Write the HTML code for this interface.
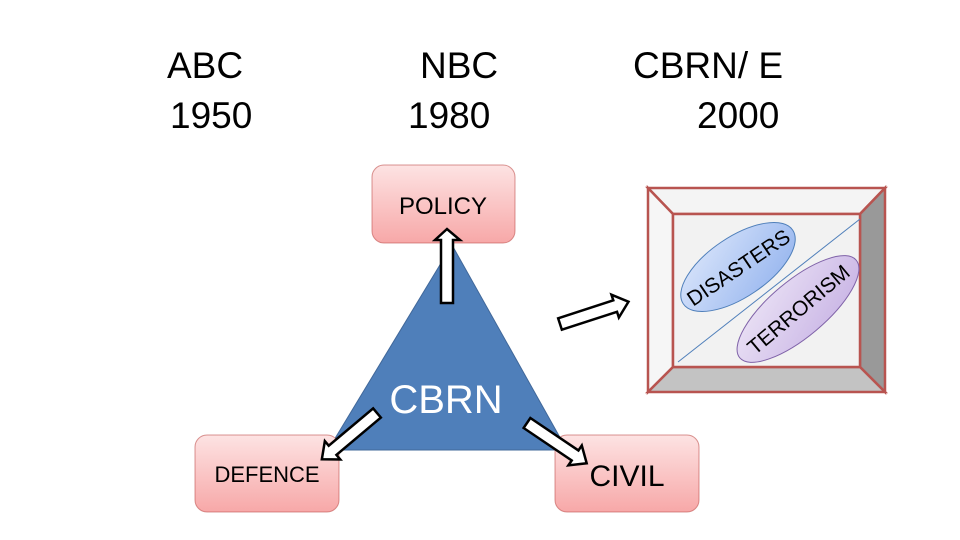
<!DOCTYPE html>
<html><head><meta charset="utf-8"><style>
body{margin:0;background:#fff;}
svg{display:block}
text{font-family:"Liberation Sans",sans-serif;}
</style></head><body>
<svg width="960" height="540" viewBox="0 0 960 540" xmlns="http://www.w3.org/2000/svg">
<defs>
<linearGradient id="pk" x1="0" y1="0" x2="0" y2="1"><stop offset="0" stop-color="#fde3e3"/><stop offset="1" stop-color="#f7a8a8"/></linearGradient>
<linearGradient id="bl" x1="0" y1="0" x2="1" y2="1"><stop offset="0" stop-color="#dbe6fb"/><stop offset="1" stop-color="#93b3ee"/></linearGradient>
<linearGradient id="pu" x1="0" y1="0" x2="1" y2="1"><stop offset="0" stop-color="#ece4f6"/><stop offset="1" stop-color="#c7b2e4"/></linearGradient>
</defs>
<g font-size="37" fill="#000">
<text x="167" y="78">ABC</text><text x="170" y="128">1950</text>
<text x="420" y="78">NBC</text><text x="408" y="128">1980</text>
<text x="633" y="78">CBRN/ E</text><text x="697" y="128">2000</text>
</g>
<polygon points="452,245 328,450 567,450" fill="#4f7fba" stroke="#41689a" stroke-width="1"/>
<rect x="372" y="165" width="143" height="78" rx="12" fill="url(#pk)" stroke="#c0504d" stroke-opacity="0.6"/>
<rect x="195" y="435" width="144" height="77" rx="12" fill="url(#pk)" stroke="#c0504d" stroke-opacity="0.6"/>
<rect x="555" y="435" width="144" height="77" rx="12" fill="url(#pk)" stroke="#c0504d" stroke-opacity="0.6"/>
<text x="443" y="214" font-size="24" text-anchor="middle">POLICY</text>
<text x="267" y="482" font-size="22" text-anchor="middle">DEFENCE</text>
<text x="627" y="486" font-size="30" text-anchor="middle">CIVIL</text>
<text x="446" y="413" font-size="40" fill="#fff" text-anchor="middle">CBRN</text>
<g fill="#fff" stroke="#000" stroke-width="2.5" stroke-linejoin="miter">
<polygon points="441,303 453,303 453,240 460,240 447,229 435,240 441,240"/>
<g transform="translate(377,413) rotate(-130)"><polygon points="-6,0 -6,-58 -12,-58 0,-72 12,-58 6,-58 6,0"/></g>
<g transform="translate(527,423) rotate(124)"><polygon points="-6,0 -6,-58 -12,-58 0,-72 12,-58 6,-58 6,0"/></g>
<g transform="translate(560,324) rotate(72)"><polygon points="-6,0 -6,-58 -12,-58 0,-72 12,-58 6,-58 6,0"/></g>
</g>
<g stroke="#b85450" stroke-width="2.5">
<polygon points="648,188 885,188 860,214 673,214" fill="#f4f4f4"/>
<polygon points="648,188 673,214 673,367 648,392" fill="#f6f6f6"/>
<polygon points="885,188 885,392 860,367 860,214" fill="#999"/>
<polygon points="648,392 673,367 860,367 885,392" fill="#c3c3c3"/>
<rect x="673" y="214" width="187" height="153" fill="#f2f2f2"/>
</g>
<line x1="678" y1="362" x2="860" y2="219" stroke="#4f7fba" stroke-width="1"/>
<g transform="translate(738,267) rotate(-34)">
<ellipse rx="66" ry="30" fill="url(#bl)" stroke="#4f7fba" stroke-width="1"/>
<text y="8" font-size="21" text-anchor="middle">DISASTERS</text></g>
<g transform="translate(798,309) rotate(-40)">
<ellipse rx="76" ry="28" fill="url(#pu)" stroke="#7f62a8" stroke-width="1"/>
<text y="8" font-size="21" text-anchor="middle">TERRORISM</text></g>
</svg>
</body></html>
